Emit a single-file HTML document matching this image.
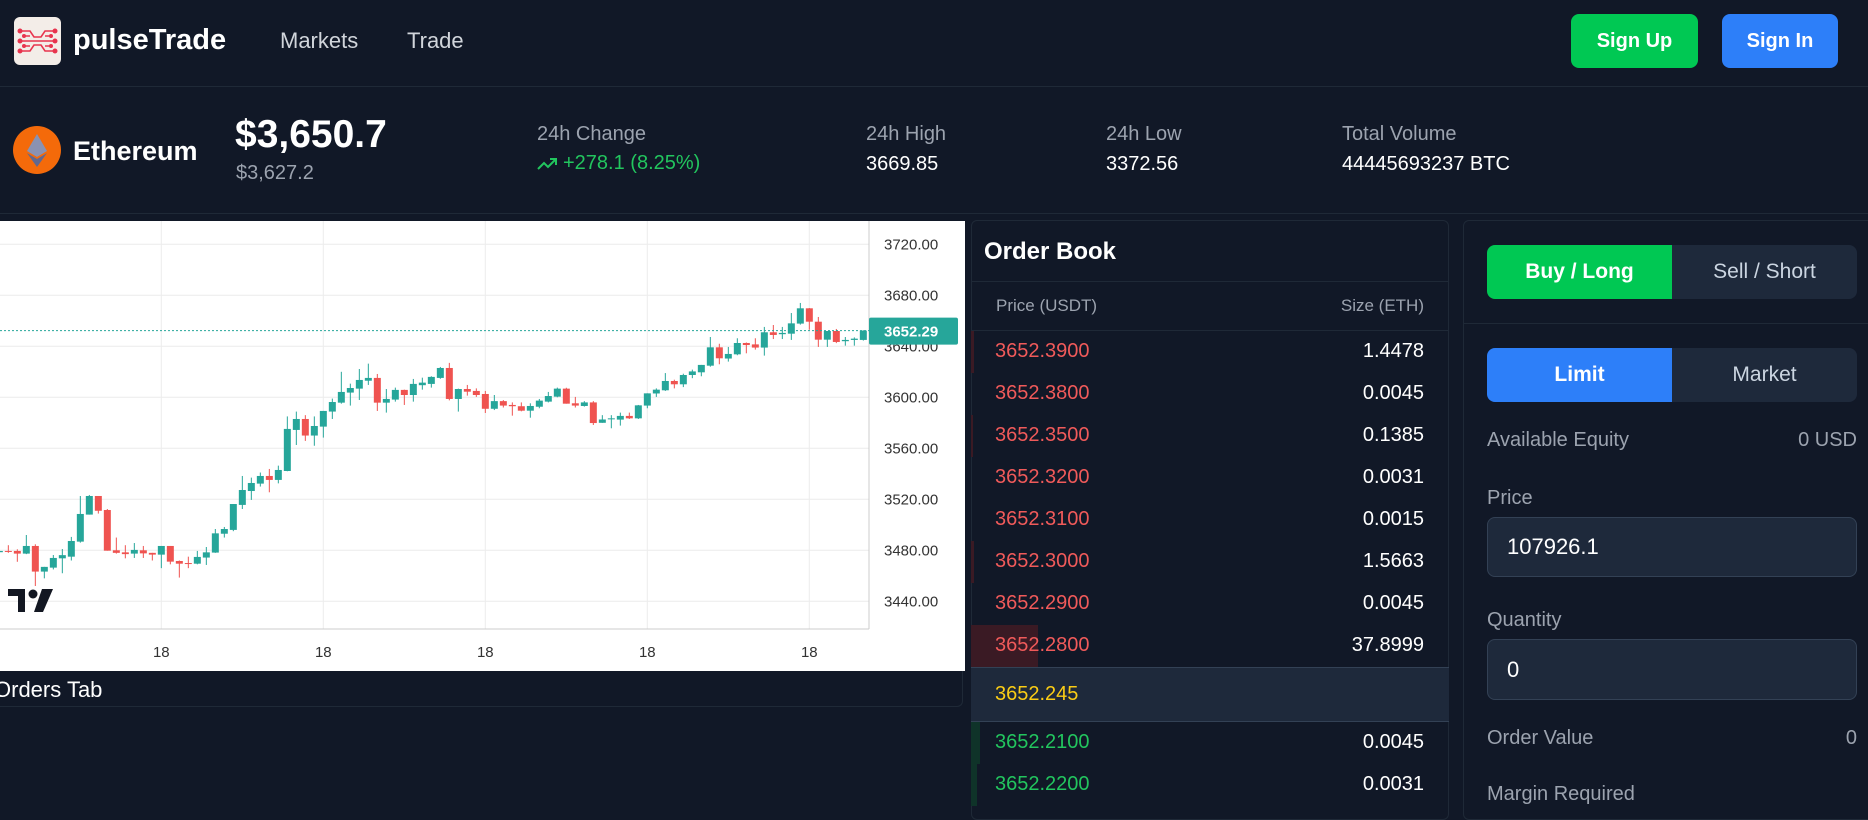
<!DOCTYPE html>
<html><head><meta charset="utf-8">
<style>
*{box-sizing:border-box;margin:0;padding:0}
body{width:1868px;height:793px;overflow:hidden;background:#111827;font-family:"Liberation Sans",sans-serif;color:#fff;position:relative}
.abs{position:absolute;white-space:nowrap}
.lbl{color:#9ca3af}
.ob-row{position:absolute;left:971px;width:478px;height:42px}
.ob-row .p{position:absolute;left:24px;top:9px;font-size:20px}
.ob-row .s{position:absolute;right:25px;top:9px;font-size:20px;color:#fff}
.ob-row .bar{position:absolute;left:0;top:0;height:42px}
</style></head><body>
<!-- header -->
<div class="abs" style="left:14px;top:17px;width:47px;height:48px;background:#f3ede8;border-radius:6px;overflow:hidden">
<svg width="47" height="48" viewBox="0 0 47 48"><g stroke="#e8344e" stroke-width="1.6" fill="none"><path d="M6 14h10l4 6h7l4-6h10M6 34h10l4-6h7l4 6h10M6 24h35M10 19h6M31 19h6M10 29h6M31 29h6"/></g><g fill="#e8344e"><circle cx="6" cy="14" r="2.5"/><circle cx="41" cy="14" r="2.5"/><circle cx="6" cy="24" r="2.5"/><circle cx="41" cy="24" r="2.5"/><circle cx="6" cy="34" r="2.5"/><circle cx="41" cy="34" r="2.5"/><circle cx="10" cy="19" r="2"/><circle cx="37" cy="19" r="2"/><circle cx="10" cy="29" r="2"/><circle cx="37" cy="29" r="2"/></g></svg></div>
<div class="abs" style="left:73px;top:24px;font-size:29px;font-weight:bold">pulseTrade</div>
<div class="abs" style="left:280px;top:28px;font-size:22px;color:#d1d5db">Markets</div>
<div class="abs" style="left:407px;top:28px;font-size:22px;color:#d1d5db">Trade</div>
<div class="abs" style="left:1571px;top:14px;width:127px;height:54px;background:#00c853;border-radius:8px;font-size:20px;font-weight:bold;line-height:54px;text-align:center">Sign Up</div>
<div class="abs" style="left:1722px;top:14px;width:116px;height:54px;background:#2d7ff9;border-radius:8px;font-size:20px;font-weight:bold;line-height:54px;text-align:center">Sign In</div>
<div class="abs" style="left:0;top:86px;width:1868px;height:1px;background:#1f2937"></div>
<!-- stats -->
<div class="abs" style="left:13px;top:126px;width:48px;height:48px;border-radius:50%;background:#f46a0a">
<svg width="48" height="48"><polygon points="24,8 34,25 24,31 14,25" fill="#8a92b2"/><polygon points="24,33 34,27 24,41 14,27" fill="#62688f"/></svg></div>
<div class="abs" style="left:73px;top:136px;font-size:27px;font-weight:bold">Ethereum</div>
<div class="abs" style="left:235px;top:113px;font-size:39px;font-weight:bold">$3,650.7</div>
<div class="abs" style="left:236px;top:162px;font-size:20px;color:#9ca3af">$3,627.2</div>
<div class="abs lbl" style="left:537px;top:123px;font-size:20px">24h Change</div>
<div class="abs" style="left:537px;top:152px;font-size:20px;color:#22c55e"><svg width="22" height="14" style="vertical-align:middle;margin-right:4px"><path d="M1 12l6-6 4 4 8-8M13 2h6v6" stroke="#22c55e" stroke-width="2" fill="none"/></svg>+278.1 (8.25%)</div>
<div class="abs lbl" style="left:866px;top:123px;font-size:20px">24h High</div>
<div class="abs" style="left:866px;top:153px;font-size:20px">3669.85</div>
<div class="abs lbl" style="left:1106px;top:123px;font-size:20px">24h Low</div>
<div class="abs" style="left:1106px;top:153px;font-size:20px">3372.56</div>
<div class="abs lbl" style="left:1342px;top:123px;font-size:20px">Total Volume</div>
<div class="abs" style="left:1342px;top:153px;font-size:20px">44445693237 BTC</div>
<div class="abs" style="left:0;top:213px;width:1868px;height:1px;background:#1f2937"></div>
<!-- chart -->
<svg id="chart" class="abs" style="left:0;top:221px" width="965" height="450"></svg>
<!-- orders tab -->
<div class="abs" style="left:-10px;top:671px;width:973px;height:36px;border:1px solid #1f2937;border-top:none;border-radius:0 0 6px 6px"></div>
<div class="abs" style="left:-6px;top:677px;font-size:22px">Orders Tab</div>
<!-- order book -->
<div class="abs" style="left:971px;top:220px;width:478px;height:600px;border:1px solid #1f2937;border-radius:6px"></div>
<div class="abs" style="left:984px;top:238px;font-size:24px;font-weight:bold">Order Book</div>
<div class="abs" style="left:971px;top:281px;width:478px;height:1px;background:#1f2937"></div>
<div class="abs lbl" style="left:996px;top:296px;font-size:17px">Price (USDT)</div>
<div class="abs lbl" style="right:444px;top:296px;font-size:17px">Size (ETH)</div>
<div class="abs" style="left:971px;top:330px;width:478px;height:1px;background:#1f2937"></div>
<div id="ob"></div>
<div class="abs" style="left:971px;top:667px;width:478px;height:55px;background:#1e293b;border-top:1px solid #334155;border-bottom:1px solid #334155"></div>
<div class="abs" style="left:995px;top:683px;font-size:20px;color:#facc15">3652.245</div>
<!-- right panel -->
<div class="abs" style="left:1463px;top:220px;width:420px;height:600px;border:1px solid #1f2937;border-radius:6px"></div>
<div class="abs" style="left:1487px;top:245px;width:185px;height:54px;background:#00c853;border-radius:8px 0 0 8px;font-size:21px;font-weight:bold;text-align:center;line-height:54px">Buy / Long</div>
<div class="abs" style="left:1672px;top:245px;width:185px;height:54px;background:#1e293b;border-radius:0 8px 8px 0;font-size:21px;color:#cbd5e1;text-align:center;line-height:54px">Sell / Short</div>
<div class="abs" style="left:1463px;top:323px;width:405px;height:1px;background:#1f2937"></div>
<div class="abs" style="left:1487px;top:348px;width:185px;height:54px;background:#2d7ff9;border-radius:8px 0 0 8px;font-size:21px;font-weight:bold;text-align:center;line-height:54px">Limit</div>
<div class="abs" style="left:1672px;top:348px;width:185px;height:54px;background:#1e293b;border-radius:0 8px 8px 0;font-size:21px;color:#cbd5e1;text-align:center;line-height:54px">Market</div>
<div class="abs lbl" style="left:1487px;top:429px;font-size:20px">Available Equity</div>
<div class="abs lbl" style="right:11px;top:429px;font-size:20px">0 USD</div>
<div class="abs lbl" style="left:1487px;top:487px;font-size:20px">Price</div>
<div class="abs" style="left:1487px;top:517px;width:370px;height:60px;background:#1e293b;border:1px solid #334155;border-radius:8px;font-size:22px;padding-left:19px;line-height:58px">107926.1</div>
<div class="abs lbl" style="left:1487px;top:609px;font-size:20px">Quantity</div>
<div class="abs" style="left:1487px;top:639px;width:370px;height:61px;background:#1e293b;border:1px solid #334155;border-radius:8px;font-size:22px;padding-left:19px;line-height:59px">0</div>
<div class="abs lbl" style="left:1487px;top:727px;font-size:20px">Order Value</div>
<div class="abs lbl" style="right:11px;top:727px;font-size:20px">0</div>
<div class="abs lbl" style="left:1487px;top:783px;font-size:20px">Margin Required</div>
<script>
const opens =[3478.5,3479.5,3479.5,3477.4,3483.4,3463.3,3466.4,3473.7,3475,3486.8,3508,3522.6,3511.6,3480,3478.4,3477.4,3480,3478,3476.6,3483.4,3471.6,3470,3469.5,3474.3,3478.2,3493,3496,3515.6,3526.5,3532.3,3538.3,3535.2,3542.2,3574.4,3583,3570,3577,3588.8,3595.8,3603.7,3606.8,3613,3615.2,3595.8,3598.2,3605.8,3601.8,3609.5,3610.5,3615.2,3623,3598.7,3606.5,3605,3602.6,3591,3597,3594,3593,3589.5,3592.6,3596.6,3600.5,3606.8,3595.3,3593.2,3596,3580,3583,3582.5,3585.4,3583.5,3593.5,3603,3605.5,3612.8,3610.2,3617.5,3619.6,3624.8,3639.2,3630.4,3633.7,3642.6,3641.5,3639,3651,3649.5,3649.9,3657.8,3669.8,3659.3,3645.2,3652,3644,3645,3645];
const closes=[3479.5,3479,3477.4,3483.4,3463.3,3467,3474,3476.2,3487.3,3508.5,3522.6,3511,3479.7,3478,3477,3480.3,3477.6,3476.6,3483.4,3471.1,3469.5,3469.5,3474.8,3478.4,3493.3,3496.7,3516.3,3527.3,3532.8,3538.3,3535.2,3543,3575.2,3583,3570,3577.5,3589.3,3596.3,3604.2,3607.3,3613.6,3615.2,3595.8,3598.7,3605.8,3601.8,3610.5,3611.5,3616,3623,3598.7,3606.5,3604.4,3601.8,3591,3597,3593.5,3593,3589.5,3593.2,3597.4,3601,3606.8,3595,3593.5,3596,3579.8,3582.6,3583.5,3585.4,3583.5,3593.7,3603.1,3606,3612.8,3610.2,3617.5,3620.3,3625.4,3639.2,3630.6,3634,3642.6,3641,3639,3651,3648.9,3650.5,3658,3669.8,3659.3,3645.2,3652,3643.4,3645,3646,3652.3];
const highs =[3480,3484,3480.8,3492,3484.7,3467,3476.3,3481,3490.5,3522.6,3523.4,3522.6,3512.4,3490,3484,3485.7,3483.4,3478,3483.4,3483.4,3472,3475,3479.5,3482.6,3496.7,3498.3,3516.3,3538.3,3537,3541,3543.8,3546.4,3585,3588.8,3586,3585,3589.3,3599,3620,3610.7,3622.2,3626.4,3618.3,3606.5,3607.6,3606,3614.4,3615.4,3616.5,3623.8,3627,3606.8,3609.7,3607,3605,3601.8,3597.8,3596,3596,3595.3,3598.7,3604.2,3607.6,3607.5,3600.3,3597,3597,3586,3586,3588,3588,3594,3603.1,3607,3619,3613.8,3618.5,3621.7,3625.4,3647.3,3642,3639.5,3646.3,3643,3646.3,3655.2,3656.7,3655.2,3666.1,3674,3670,3663,3652,3653.6,3647.3,3647,3652.6];
const lows  =[3478,3478,3471,3477,3452,3458,3465,3462,3472,3486,3508,3508.8,3479.7,3477.4,3473.7,3474,3474,3472,3466,3469,3458.6,3466,3469,3468.5,3478,3490,3495,3512.4,3519.5,3530,3525.5,3532.5,3542,3562.6,3565.8,3562,3568.4,3583,3595,3593.5,3597.9,3609.7,3589.3,3588,3596.6,3594,3596.6,3606,3607.6,3614.5,3597.6,3588.8,3601.3,3600.3,3587.7,3590,3592,3585.6,3589,3584,3591.4,3596,3600,3595,3592,3592.7,3578.3,3580,3575.7,3577.8,3583,3583,3591.4,3600.3,3605,3607,3608,3615,3616.5,3624,3625.9,3628,3633,3634.5,3637.4,3632.7,3645.7,3645.7,3645,3657,3653,3639.5,3639.5,3642.5,3640.5,3640.5,3644.5];
const yTicks=[3720,3680,3640,3600,3560,3520,3480,3440];
const xTickLabels=["18","18","18","18","18"];
const lastPrice=3652.29;

const NS="http://www.w3.org/2000/svg";
const svg=document.getElementById('chart');
const plotW=869, axisY=408;
function y(v){return 23.3+(3720-v)*1.275;}
function x(i){return -0.67+9*i;}
function mk(tag,attrs,name){const e=document.createElementNS(NS,tag);for(const k in attrs)e.setAttribute(k,attrs[k]);svg.appendChild(e);return e;}
let bg=mk('rect',{x:0,y:0,width:965,height:450,fill:'#fff'});


yTicks.forEach(t=>{
  const l=mk('line',{x1:0,x2:plotW,y1:y(t),y2:y(t),stroke:'#ececec','stroke-width':1});
  
  
  const tx=mk('text',{x:884,y:y(t)+5,'font-size':15,fill:'#333','font-family':'Liberation Sans, sans-serif'});
  tx.textContent=t.toFixed(2);
  
  
});
xTickLabels.forEach((s,j)=>{
  const gx=161.3+162*j;
  const l=mk('line',{x1:gx,x2:gx,y1:0,y2:axisY,stroke:'#ececec','stroke-width':1});
  
  
  const tx=mk('text',{x:gx,y:436,'font-size':15,fill:'#333','text-anchor':'middle','font-family':'Liberation Sans, sans-serif'});
  tx.textContent=s;
  
  
});
let ax=mk('line',{x1:plotW,x2:plotW,y1:0,y2:axisY,stroke:'#ccc','stroke-width':1});


let bx=mk('line',{x1:0,x2:plotW,y1:axisY,y2:axisY,stroke:'#ccc','stroke-width':1});


opens.forEach((o,i)=>{
  const c=closes[i],col=c>=o?'#26a69a':'#ef5350',cx=x(i);
  const w=mk('line',{x1:cx,x2:cx,y1:y(highs[i]),y2:y(lows[i]),stroke:col,'stroke-width':1});
  
  
  const top=y(Math.max(o,c)),h=Math.max(1,Math.abs(y(o)-y(c)));
  const b=mk('rect',{x:cx-3.5,y:top,width:7,height:h,fill:col});
  
  
});
let pl=mk('line',{x1:0,x2:plotW,y1:y(lastPrice),y2:y(lastPrice),stroke:'#26a69a','stroke-width':1,'stroke-dasharray':'2,2'});


let pb=mk('rect',{x:plotW,y:y(lastPrice)-13,width:89,height:27,rx:2,fill:'#26a69a'});


let pt=mk('text',{x:884,y:y(lastPrice)+6,'font-size':15,'font-weight':'bold',fill:'#fff','font-family':'Liberation Sans, sans-serif'});
pt.textContent=lastPrice.toFixed(2);


let logo=mk('g',{});


logo.innerHTML='<path d="M8 368h17v23h-7v-16h-10z" fill="#131722"/><circle cx="33" cy="373" r="4.5" fill="#131722"/><path d="M42 368h11l-10 23h-9z" fill="#131722"/>';

const askPrices=["3652.3900","3652.3800","3652.3500","3652.3200","3652.3100","3652.3000","3652.2900","3652.2800"];
const askSizes=["1.4478","0.0045","0.1385","0.0031","0.0015","1.5663","0.0045","37.8999"];
const askDepth=[3,0,2,0,0,3,0,67];
const bidPrices=["3652.2100","3652.2200"];
const bidSizes=["0.0045","0.0031"];
const bidDepth=[9,6];
const ob=document.getElementById('ob');
function row(p,s,d,top,col,tint,name){
  const r=document.createElement('div');r.className='ob-row';r.style.top=top+'px';
  
  
  r.innerHTML='<div class="bar" style="width:'+d+'px;background:'+tint+'"></div><div class="p" style="color:'+col+'">'+p+'</div><div class="s">'+s+'</div>';
  ob.appendChild(r);
}
askPrices.forEach((p,i)=>row(p,askSizes[i],askDepth[i],331+42*i,'#f05a5a','#3a1a24','ask-row'));
bidPrices.forEach((p,i)=>row(p,bidSizes[i],bidDepth[i],722+42*i,'#22c55e','#0f3329','bid-row'));
</script>
</body></html>
